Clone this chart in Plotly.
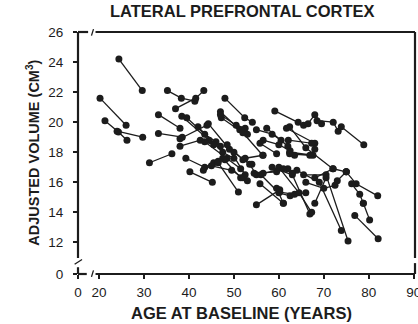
import plotly.graph_objects as go

# ---- data: one entry per measurement; subjects connected by lines ----
subject = [
    1, 1,
    2, 2,
    3, 3, 3,
    4, 4,
    5, 5, 5,
    6, 6, 6,
    7, 7,
    8, 8,
    9, 9,
    10, 10,
    11, 11, 11,
    12, 12, 12,
    13, 13, 13,
    14, 14, 14,
    15, 15,
    16, 16, 16,
    17, 17, 17,
    18, 18, 18,
    19, 19, 19,
    20, 20, 20,
    21, 21,
    22, 22, 22,
    23, 23, 23,
    24, 24, 24,
    25, 25, 25,
    26, 26, 26,
    27, 27, 27,
    28, 28, 28,
    29, 29, 29,
    30, 30, 30,
    31, 31, 31,
    32, 32,
    33, 33, 33,
    34, 34, 34,
    35, 35, 35,
    36, 36,
    37, 37,
    38, 38, 38,
    39, 39,
    40, 40,
    41, 41,
    42, 42,
    43, 43, 43,
    44, 44, 44,
    45, 45, 45,
    46, 46, 46,
    47, 47,
    48, 48,
    49, 49, 49,
    50, 50, 50,
    51, 51, 51,
    52, 52, 52,
    53, 53, 53,
    54, 54, 54,
    55, 55,
    56, 56,
    57, 57,
    58, 58, 58,
    59, 59, 59,
    60, 60,
    61, 61, 61,
]
age = [
    24.4, 29.6,
    20.2, 26.0,
    21.3, 24.3, 26.2,
    24.0, 29.7,
    35.2, 38.3, 41.3,
    37.0, 41.5, 43.3,
    33.2, 38.0,
    33.2, 38.5,
    31.2, 36.2,
    38.0, 44.0,
    38.4, 44.5, 47.0,
    39.5, 43.5, 46.0,
    38.0, 42.5, 45.5,
    39.3, 43.5, 45.5,
    40.2, 45.2,
    42.0, 47.5, 50.0,
    43.5, 48.5, 51.5,
    44.3, 49.0, 52.5,
    43.2, 46.5, 48.0,
    45.0, 49.5, 52.0,
    46.5, 51.0,
    47.5, 51.5, 53.0,
    48.0, 52.4, 54.1,
    47.0, 51.3, 53.0,
    47.2, 52.0, 56.4,
    47.0, 50.5, 52.5,
    48.5, 52.0, 54.0,
    50.0, 53.5, 55.0,
    55.0, 58.5, 60.5,
    57.3, 62.0, 63.5,
    56.5, 60.0, 62.5,
    55.8, 59.5,
    59.1, 64.3, 65.5,
    66.5, 68.0, 69.5,
    68.5, 72.1, 73.2,
    73.9, 78.9,
    61.7, 68.0,
    62.1, 67.3, 68.0,
    62.4, 67.6,
    55.0, 60.2,
    52.5, 56.5,
    55.8, 61.0,
    54.5, 59.5, 62.0,
    56.0, 60.0, 62.5,
    58.5, 63.0, 66.9,
    60.2, 63.5, 66.0,
    68.0, 70.5,
    62.4, 66.9,
    64.0, 69.0, 73.9,
    65.5, 70.5, 75.4,
    66.0, 70.0, 72.5,
    68.0, 72.1, 75.0,
    75.0, 77.2, 82.0,
    76.2, 78.0, 78.8,
    76.9, 82.1,
    78.8, 80.2,
    73.0, 75.0,
    62.4, 66.0, 72.0,
    60.0, 64.5, 67.3,
    59.5, 61.0,
    56.5, 61.0, 63.0,
]
volume = [
    24.2, 22.1,
    21.6, 19.8,
    20.1, 19.35, 18.8,
    19.4, 19.0,
    22.1, 21.6, 21.4,
    20.9, 21.6, 22.1,
    20.5, 19.6,
    19.25, 19.0,
    17.3, 17.9,
    18.9, 19.8,
    20.4, 18.8, 18.4,
    20.3, 19.2, 18.7,
    18.4, 18.8, 18.5,
    17.6, 17.0, 17.3,
    16.7, 16.0,
    19.7, 18.0, 17.6,
    18.7, 17.6, 16.9,
    19.9, 18.2, 16.5,
    16.8, 17.4, 17.5,
    17.1, 16.8, 16.3,
    17.3, 15.35,
    17.6, 16.3, 16.1,
    21.6, 20.3, 20.0,
    20.7, 19.5, 19.2,
    20.3, 19.3, 17.8,
    20.5, 19.8, 19.6,
    18.5, 17.5, 17.2,
    18.0, 17.2, 16.5,
    19.5, 19.2, 18.8,
    19.6, 18.4, 17.8,
    18.8, 18.5, 18.1,
    18.6, 17.9,
    20.75, 20.0, 19.8,
    19.9, 20.5, 19.9,
    20.1, 20.0, 19.4,
    19.7, 18.5,
    19.6, 18.6,
    18.8, 18.6, 18.2,
    18.0, 17.8,
    14.5, 15.5,
    17.6, 17.8,
    15.9, 14.6,
    16.6, 16.7, 16.9,
    16.5, 15.3, 15.1,
    17.0, 16.5, 13.9,
    15.35, 15.2, 15.3,
    14.6, 16.3,
    17.9, 17.8,
    16.8, 16.0, 12.8,
    16.5, 16.5, 12.1,
    16.0, 15.6, 15.8,
    16.3, 16.9, 16.7,
    16.7, 15.9, 15.1,
    15.9, 15.2, 14.6,
    13.8, 12.25,
    14.6, 13.5,
    16.1, 16.7,
    19.7, 18.3, 16.9,
    17.0, 15.3, 14.0,
    15.6, 14.6,
    16.6, 16.9, 16.6,
]

x_tick_vals = [15.3, 20, 30, 40, 50, 60, 70, 80, 90]
x_tick_text = ["0", "20", "30", "40", "50", "60", "70", "80", "90"]
y_tick_vals = [9.9, 12, 14, 16, 18, 20, 22, 24, 26]
y_tick_text = ["0", "12", "14", "16", "18", "20", "22", "24", "26"]

# build one line trace with gaps between subjects
xs, ys = [], []
prev = None
for s, a, v in zip(subject, age, volume):
    if prev is not None and s != prev:
        xs.append(None)
        ys.append(None)
    xs.append(a)
    ys.append(v)
    prev = s

INK = "#1c1c1c"
FONT = "Liberation Sans"

fig = go.Figure()
fig.add_trace(go.Scatter(
    x=xs, y=ys, mode="lines+markers",
    line=dict(color=INK, width=1.3),
    marker=dict(color=INK, size=7),
    connectgaps=False, hoverinfo="skip", showlegend=False,
    cliponaxis=False,
))

axis_common = dict(showgrid=False, zeroline=False, showline=False, automargin=False,
                   ticks="outside", ticklen=4, tickcolor=INK, tickwidth=1.5,
                   ticklabeloverflow="allow",
                   tickfont=dict(family=FONT, size=13.5, color=INK))

fig.update_layout(
    width=418, height=324,
    margin=dict(l=78, r=3, t=32, b=50, autoexpand=False),
    paper_bgcolor="white", plot_bgcolor="white",
    xaxis=dict(range=[15.3, 90.3], tickvals=x_tick_vals, ticktext=x_tick_text,
               ticklabelstandoff=2, **axis_common),
    yaxis=dict(range=[9.9, 26.0], tickvals=y_tick_vals, ticktext=y_tick_text,
               ticklabelstandoff=7, **axis_common),
    font=dict(family=FONT, color=INK),
)

# frame with axis breaks (paper coords)
def seg(x0, y0, x1, y1, w=2.2):
    fig.add_shape(type="line", xref="paper", yref="paper",
                  x0=x0, y0=y0, x1=x1, y1=y1,
                  line=dict(color=INK, width=w))

seg(0, 0.066, 0, 1)          # left axis upper part
seg(0, 0, 0, 0.028)          # left axis stub
seg(0, 0, 0.026, 0)          # bottom stub
seg(0.052, 0, 1, 0)          # bottom axis
seg(0, 1, 0.03, 1)           # top stub
seg(0.052, 1, 1, 1)          # top border
seg(1, 0.066, 1, 1)          # right border
seg(1, 0, 1, 0.045)          # right stub
# break slashes
seg(0.040, 0.985, 0.046, 1.012, 1.3)
seg(0.040, -0.012, 0.046, 0.015, 1.3)
seg(-0.010, 0.040, 0.012, 0.060, 1.3)

fig.add_annotation(text="<b>LATERAL PREFRONTAL CORTEX</b>", xref="paper", yref="paper",
                   x=0.487, y=1.087, xanchor="center", yanchor="middle", showarrow=False,
                   font=dict(family=FONT, size=16.5, color=INK))
fig.add_annotation(text="<b>AGE AT BASELINE (YEARS)</b>", xref="paper", yref="paper",
                   x=0.484, y=-0.161, xanchor="center", yanchor="middle", showarrow=False,
                   font=dict(family=FONT, size=16.5, color=INK))
fig.add_annotation(text="<b>ADJUSTED VOLUME (CM<sup>3</sup>)</b>", xref="paper", yref="paper",
                   x=-0.136, y=0.502, xanchor="center", yanchor="middle", showarrow=False,
                   textangle=-90, font=dict(family=FONT, size=14.5, color=INK))

fig.write_html(
    "out.html",
    config={"displayModeBar": False},
    post_script="document.body.style.margin='0';document.body.style.overflow='hidden';",
)
